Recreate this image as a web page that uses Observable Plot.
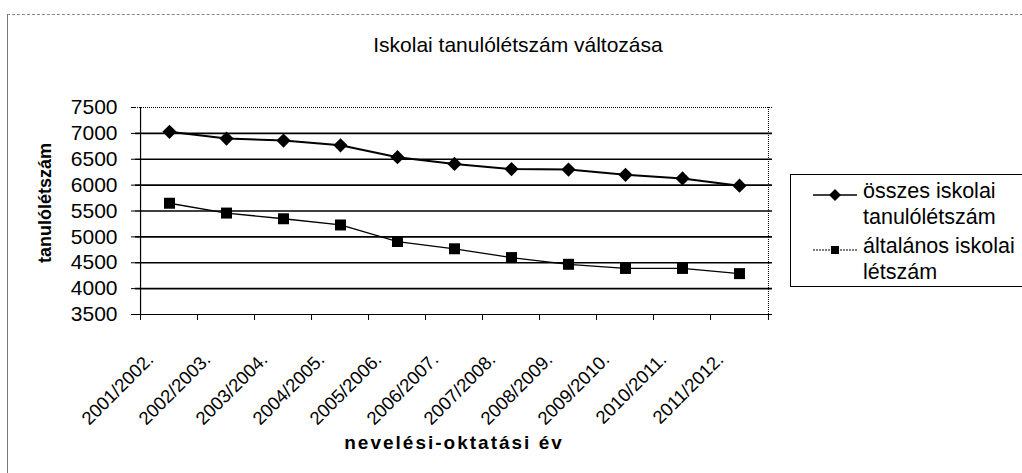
<!DOCTYPE html>
<html>
<head>
<meta charset="utf-8">
<script src="https://cdn.jsdelivr.net/npm/d3@7"></script>
<script src="https://cdn.jsdelivr.net/npm/@observablehq/plot@0.6"></script>
<style>
  html, body { margin: 0; padding: 0; background: #fff; }
  body { width: 1022px; height: 473px; overflow: hidden; position: relative; font-family: "Liberation Sans", Arial, sans-serif; }
  #frame { position: absolute; left: 7px; top: 14px; width: 1030px; height: 480px; border-top: 1px dashed #888; border-left: 1px solid #777; pointer-events: none; }
  #title { height: 80px; box-sizing: border-box; padding-top: 33px; line-height: 24px; text-align: center; font-size: 21px; color: #000; padding-left: 14px; }
  #chart { position: relative; }
  #chart .xtitle text, #chart text.xtitle { letter-spacing: 2px; }
  #legend { position: absolute; left: 790px; top: 174px; width: 260px; height: 113px; border: 1px solid #000; box-sizing: border-box; background: #fff; font-size: 21.5px; color: #000; }
  .entry { position: absolute; left: 20px; display: flex; align-items: flex-start; }
  .entry svg { margin-top: 6px; }
  .entry .txt { margin-left: 6px; line-height: 26px; }
</style>
</head>
<body>
<div id="frame"></div>
<div id="title">Iskolai tanulólétszám változása</div>
<div id="chart"></div>
<div id="legend"></div>
<script>
const years = ["2001/2002.", "2002/2003.", "2003/2004.", "2004/2005.", "2005/2006.", "2006/2007.", "2007/2008.", "2008/2009.", "2009/2010.", "2010/2011.", "2011/2012."];
const osszes = [7030, 6900, 6860, 6770, 6540, 6410, 6310, 6300, 6200, 6130, 5990];
const altalanos = [5650, 5460, 5350, 5230, 4910, 4770, 4600, 4470, 4390, 4390, 4290];
const yTicks = [3500, 4000, 4500, 5000, 5500, 6000, 6500, 7000, 7500];
const seriesNames = ["összes iskolai tanulólétszám", "általános iskolai létszám"];
const yTitle = "tanulólétszám";
const xTitle = "nevelési-oktatási év";

const rowsA = years.map((y, i) => ({year: y, value: osszes[i]}));
const rowsB = years.map((y, i) => ({year: y, value: altalanos[i]}));

const W = 1022, H = 393;
const mL = 135, mR = 250, mT = 27, mB = 159;
const step = (W - mL - mR) / years.length;

const chart = Plot.plot({
  width: W, height: H,
  marginLeft: mL, marginRight: mR, marginTop: mT, marginBottom: mB,
  style: {fontFamily: "'Liberation Sans', Arial, sans-serif", color: "#000", background: "transparent"},
  x: {type: "point", domain: years, padding: 0.5},
  y: {domain: [3500, 7500]},
  marks: [
    Plot.ruleY(yTicks.filter(v => v > 3500 && v < 7500), {stroke: "#000", strokeWidth: 1.6}),
    Plot.ruleY([7500], {stroke: "#000", strokeWidth: 1, strokeDasharray: "1,1"}),
    Plot.ruleX([years[years.length - 1]], {dx: step / 2, y1: 3500, y2: 7500, stroke: "#000", strokeDasharray: "1,1"}),
    Plot.ruleX([years[0]], {dx: -step / 2, y1: 3500, y2: 7500, stroke: "#000", strokeWidth: 1.2}),
    Plot.ruleY([3500], {stroke: "#000", strokeWidth: 1.2}),
    Plot.ruleX(years, {x: d => d, dx: -step / 2, y1: 3500, y2: 3500, insetBottom: -6, stroke: "#000"}),
    Plot.ruleX([years[years.length - 1]], {dx: step / 2, y1: 3500, y2: 3500, insetBottom: -6, stroke: "#000"}),
    Plot.axisY({ticks: yTicks, tickFormat: d => String(d), tickSize: 4, tickPadding: 14, fontSize: 21, label: null}),
    Plot.axisX({tickSize: 0, tickRotate: -45, fontSize: 18.5, label: null, dx: -19, dy: 30}),
    Plot.line(rowsB, {x: "year", y: "value", stroke: "#000", strokeWidth: 1.3}),
    Plot.line(rowsA, {x: "year", y: "value", stroke: "#000", strokeWidth: 2}),
    Plot.dot(rowsA, {x: "year", y: "value", symbol: "diamond2", r: 6.4, fill: "#000", stroke: "none"}),
    Plot.dot(rowsB, {x: "year", y: "value", symbol: "square", r: 6.2, fill: "#000", stroke: "none"}),
    Plot.text([yTitle], {frameAnchor: "left", dx: -90, dy: -8, rotate: -90, textAnchor: "middle", fontWeight: "bold", fontSize: 18}),
    Plot.text([xTitle], {frameAnchor: "bottom", dy: 134, fontWeight: "bold", fontSize: 19, className: "xtitle"})
  ]
});
document.getElementById("chart").appendChild(chart);

// legend
const legend = document.getElementById("legend");
const tops = [3, 58];
const lineTexts = [["összes iskolai", "tanulólétszám"], ["általános iskolai", "létszám"]];
[0, 1].forEach(i => {
  const e = document.createElement("div");
  e.className = "entry";
  e.style.top = tops[i] + "px";
  const sym = i === 0
    ? '<path d="M24,5 L30,11 L24,17 L18,11 Z" fill="#000"/>'
    : '<rect x="20" y="7" width="8" height="8" fill="#000"/>';
  const dash = i === 0 ? '' : 'stroke-dasharray="2,1"';
  e.innerHTML = `<svg width="46" height="22"><line x1="2" x2="46" y1="11" y2="11" stroke="#000" stroke-width="${i === 0 ? 1.6 : 1}" ${dash}/>${sym}</svg><div class="txt">${lineTexts[i].join("<br>")}</div>`;
  legend.appendChild(e);
});
</script>
</body>
</html>
